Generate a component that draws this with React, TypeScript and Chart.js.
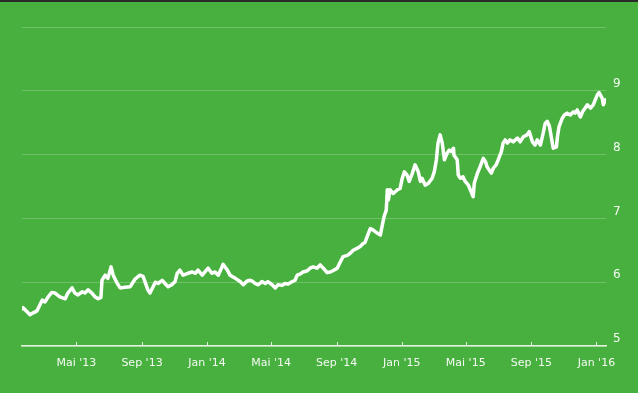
import React, { useEffect, useRef } from "react";
import { Chart, registerables } from "chart.js";

Chart.register(...registerables);

// Series start date; points are given as day offsets from it
const startDate = "2013-01-19";
const endDate = "2016-01-19";

const dayOffsets = [
  0, 2, 9, 15, 21, 28, 38, 43, 49, 56, 62, 71, 81, 86, 94, 99, 105, 113, 118, 124,
  131, 137, 143, 148, 150, 156, 161, 167, 171, 178, 184, 193, 203, 212, 221, 227, 236, 240, 250, 255,
  263, 268, 274, 281, 287, 291, 296, 302, 311, 319, 325, 330, 338, 343, 349, 356, 362, 368, 375, 377,
  385, 390, 400, 409, 415, 422, 428, 431, 437, 443, 450, 456, 461, 469, 475, 480, 488, 493, 499, 507,
  512, 516, 522, 527, 535, 540, 546, 553, 559, 565, 572, 578, 583, 591, 597, 602, 610, 615, 621, 628,
  634, 640, 643, 647, 653, 658, 666, 672, 675, 679, 683, 685, 687, 690, 696, 704, 709, 713, 717, 722,
  726, 732, 737, 743, 747, 750, 756, 762, 769, 773, 777, 780, 784, 788, 792, 797, 801, 805, 809, 810,
  816, 818, 822, 827, 831, 837, 842, 846, 848, 854, 859, 865, 869, 872, 876, 880, 884, 889, 893, 899,
  902, 906, 910, 915, 921, 929, 934, 940, 947, 951, 957, 962, 966, 972, 977, 981, 985, 989, 994, 996,
  1002, 1004, 1007, 1013, 1017, 1022, 1028, 1034, 1037, 1041, 1047, 1051, 1056, 1060, 1066, 1071, 1075, 1079, 1082, 1088,
  1090, 1094,
];

const prices = [
  5.58, 5.6, 5.54, 5.49, 5.52, 5.55, 5.72, 5.69, 5.77, 5.84, 5.83, 5.77, 5.74, 5.83, 5.91, 5.83, 5.8, 5.85, 5.83, 5.88,
  5.83, 5.77, 5.74, 5.76, 6.03, 6.11, 6.06, 6.24, 6.11, 5.99, 5.91, 5.92, 5.93, 6.05, 6.11, 6.09, 5.88, 5.83, 6.0, 5.98,
  6.03, 5.98, 5.93, 5.96, 6.01, 6.14, 6.19, 6.11, 6.14, 6.16, 6.14, 6.19, 6.11, 6.16, 6.22, 6.14, 6.16, 6.11, 6.24, 6.28,
  6.19, 6.11, 6.06, 6.01, 5.96, 6.02, 6.03, 6.02, 5.98, 5.96, 6.01, 5.98, 6.01, 5.96, 5.91, 5.96, 5.95, 5.98, 5.97, 6.01,
  6.03, 6.11, 6.13, 6.16, 6.18, 6.22, 6.24, 6.22, 6.27, 6.22, 6.15, 6.16, 6.18, 6.22, 6.32, 6.4, 6.42, 6.45, 6.5, 6.53,
  6.56, 6.61, 6.62, 6.71, 6.84, 6.82, 6.77, 6.74, 6.87, 7.03, 7.13, 7.45, 7.29, 7.45, 7.39, 7.45, 7.47, 7.63, 7.73, 7.68,
  7.58, 7.71, 7.84, 7.73, 7.58, 7.63, 7.52, 7.55, 7.63, 7.73, 7.92, 8.18, 8.31, 8.18, 7.92, 8.02, 8.07, 8.05, 8.1, 7.99,
  7.92, 7.68, 7.63, 7.65, 7.58, 7.52, 7.42, 7.34, 7.55, 7.71, 7.81, 7.94, 7.89, 7.81, 7.76, 7.71, 7.79, 7.84, 7.92, 8.05,
  8.18, 8.23, 8.18, 8.23, 8.2, 8.26, 8.2, 8.28, 8.31, 8.36, 8.2, 8.15, 8.23, 8.15, 8.33, 8.49, 8.52, 8.44, 8.2, 8.1,
  8.12, 8.28, 8.44, 8.57, 8.62, 8.65, 8.62, 8.67, 8.65, 8.7, 8.59, 8.67, 8.73, 8.78, 8.73, 8.78, 8.86, 8.94, 8.97, 8.88,
  8.78, 8.86,
];

const xTickDates = [
  "2013-05-01", "2013-09-01", "2014-01-01", "2014-05-01", "2014-09-01",
  "2015-01-01", "2015-05-01", "2015-09-01", "2016-01-01",
];
const xTickLabels = [
  "Mai '13", "Sep '13", "Jan '14", "Mai '14", "Sep '14",
  "Jan '15", "Mai '15", "Sep '15", "Jan '16",
];
const yMin = 5;
const yMax = 10;
const yHiddenLabels = [10];

const DAY_MS = 86400000;

export default function App() {
  const ref = useRef<HTMLCanvasElement | null>(null);

  useEffect(() => {
    document.body.style.margin = "0";
    document.body.style.background = "#47b03f";
    const canvas = ref.current;
    if (!canvas) return;
    const start = Date.parse(startDate);
    const points = dayOffsets.map((d, i) => ({ x: start + d * DAY_MS, y: prices[i] }));

    const tickMarks = {
      id: "tickMarks",
      afterDraw(chart: any) {
        const sx = chart.scales.x;
        const bottom = chart.chartArea.bottom;
        const ctx = chart.ctx;
        ctx.save();
        ctx.strokeStyle = "rgba(235,245,232,0.95)";
        ctx.lineWidth = 1;
        sx.ticks.forEach((t: any) => {
          const px = Math.round(sx.getPixelForValue(t.value)) + 0.5;
          ctx.beginPath();
          ctx.moveTo(px, bottom - 4);
          ctx.lineTo(px, bottom);
          ctx.stroke();
        });
        ctx.restore();
      },
    };

    const chart = new Chart(canvas, {
      type: "line",
      data: {
        datasets: [
          {
            data: points,
            borderColor: "#ffffff",
            borderWidth: 3.5,
            pointRadius: 0,
            tension: 0,
            fill: false,
            borderJoinStyle: "round",
            borderCapStyle: "round",
          },
        ],
      },
      options: {
        animation: false,
        responsive: false,
        maintainAspectRatio: false,
        layout: { padding: { left: 22, top: 27, right: 0, bottom: 0 } },
        plugins: { legend: { display: false }, tooltip: { enabled: false } },
        scales: {
          x: {
            type: "linear",
            min: start,
            max: Date.parse(endDate),
            afterBuildTicks: (scale: any) => {
              scale.ticks = xTickDates.map((d) => ({ value: Date.parse(d) }));
            },
            afterFit: (scale: any) => {
              scale.height = 47;
            },
            grid: { display: true, drawOnChartArea: false, drawTicks: false },
            border: { display: true, color: "rgba(235,245,232,0.95)", width: 1.5 },
            ticks: {
              autoSkip: false,
              maxRotation: 0,
              padding: 11,
              color: "#f6faf4",
              font: { family: "'DejaVu Sans', sans-serif", size: 11 },
              callback: (_v: any, i: number) => xTickLabels[i],
            },
          },
          y: {
            position: "right",
            min: yMin,
            max: yMax,
            afterFit: (scale: any) => {
              scale.width = 32;
            },
            grid: { color: "rgba(255,255,255,0.22)", lineWidth: 1, drawTicks: false },
            border: { display: false },
            ticks: {
              stepSize: 1,
              padding: 7,
              labelOffset: -7,
              color: "#f6faf4",
              font: { family: "'DejaVu Sans', sans-serif", size: 12 },
              callback: (v: any) => (yHiddenLabels.includes(v) ? "" : String(v)),
            },
          },
        },
      },
      plugins: [tickMarks],
    });
    return () => chart.destroy();
  }, []);

  return (
    <div style={{ position: "relative", width: 638, height: 393, background: "#47b03f" }}>
      <canvas ref={ref} width={638} height={393} style={{ display: "block" }} />
      <div
        style={{ position: "absolute", left: 0, top: 0, width: 638, height: 2, background: "#2a2a2a" }}
      />
    </div>
  );
}
